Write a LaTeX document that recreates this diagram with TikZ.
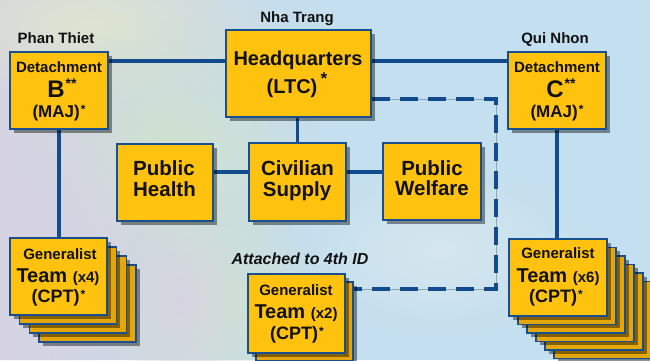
\documentclass[tikz,border=0pt]{standalone}
\usepackage{fontspec}
\setmainfont{Liberation Sans}
\usetikzlibrary{shadows,fadings}
\definecolor{bgblue}{HTML}{C4DFEF}
\definecolor{lav}{HTML}{D7D4E3}
\definecolor{greenish}{HTML}{D0E3CE}
\definecolor{paleyel}{HTML}{DDE4CF}
\definecolor{whitish}{HTML}{D6E7EE}
\definecolor{boxyel}{HTML}{FFC20F}
\definecolor{boxdark}{HTML}{E3A70B}
\definecolor{edge}{HTML}{1A4F8F}
\definecolor{wire}{HTML}{124C8E}
\definecolor{thingray}{HTML}{8EA6B6}
\definecolor{ink}{HTML}{111111}
\tikzfading[name=fadeR, left color=transparent!0, right color=transparent!100]
\tikzfading[name=softblob, inner color=transparent!0, outer color=transparent!100]
\newcommand\fs[1]{\fontsize{#1}{#1}\selectfont}
\newcommand\starup[2]{\raisebox{#1}{\fs{#2}*}}
\pgfdeclarelayer{bg}
\pgfdeclarelayer{wires}
\pgfsetlayers{bg,wires,main}
\begin{document}
\begin{tikzpicture}[x=1pt,y=-1pt,
  box/.style={draw=edge, line width=1.4pt, fill=boxyel, inner sep=0pt,
    drop shadow={shadow xshift=3.5pt, shadow yshift=-3.5pt, opacity=0.42, fill=black}},
  backbox/.style={box, fill=boxdark},
  tw/.style={minimum width=98pt, minimum height=77pt},
  txt/.style={anchor=base, inner sep=0pt, text=ink, font=\bfseries},
  conn/.style={draw=wire, line width=3.5pt},
  dashconn/.style={draw=wire, line width=3.2pt, dash pattern=on 18pt off 10pt},
  thinline/.style={draw=thingray, line width=0.8pt}]
\useasboundingbox (0,0) rectangle (650,360);

% background
\begin{pgfonlayer}{bg}
\clip (0,0) rectangle (650,360);
\fill[bgblue] (0,0) rectangle (650,360);
\fill[lav, path fading=fadeR] (0,0) rectangle (320,360);
\fill[paleyel, path fading=softblob] (90,25) ellipse (190 and 80);
\fill[greenish, path fading=softblob] (170,150) ellipse (150 and 130);
\fill[greenish, path fading=softblob] (210,300) ellipse (120 and 110);
\fill[lav, path fading=softblob] (40,230) ellipse (140 and 160);
\fill[lav, path fading=softblob] (180,300) ellipse (70 and 90);
\fill[whitish, path fading=softblob] (440,250) ellipse (150 and 90);
\end{pgfonlayer}

% boxes: back of stacks first
\node[backbox, tw, minimum width=97pt] (T4c) at (87.6,303.5) {};
\node[backbox, tw, minimum width=97pt] (T4b) at (77.9,294.5) {};
\node[backbox, tw, minimum width=97pt] (T4a) at (68.2,285.5) {};
\node[box, tw, minimum width=97pt] (T4) at (58.5,276.5) {};

\node[backbox, tw] (T6e) at (603,320) {};
\node[backbox, tw] (T6d) at (594,311.5) {};
\node[backbox, tw] (T6c) at (585,303) {};
\node[backbox, tw] (T6b) at (576,294.5) {};
\node[backbox, tw] (T6a) at (567,286) {};
\node[box, tw] (T6) at (558,277.5) {};

\node[backbox, tw, minimum width=97pt, minimum height=79pt] (T2a) at (304.5,321.5) {};
\node[box, tw, minimum width=97pt, minimum height=79pt] (T2) at (296.5,313.5) {};

\node[box, tw] (B) at (59,90.5) {};
\node[box, tw] (C) at (557,90.5) {};
\node[box, minimum width=145pt, minimum height=87pt] (HQ) at (298.5,73.5) {};
\node[box, minimum width=96pt, minimum height=77pt] (PH) at (165,182.5) {};
\node[box, minimum width=97pt, minimum height=78pt] (CS) at (297.5,182) {};
\node[box, tw] (PW) at (432,181.5) {};

% connectors
\coordinate (topy) at (0,61);
\coordinate (midy) at (0,172);
\coordinate (dc1) at (496,99);
\coordinate (dc2) at (496,289);
\begin{pgfonlayer}{wires}
\draw[conn] (B.east |- topy) -- (HQ.west |- topy);
\draw[conn] (HQ.east |- topy) -- (C.west |- topy);
\draw[conn] (HQ.south -| CS.north) -- (CS.north);
\draw[conn] (PH.east |- midy) -- (CS.west |- midy);
\draw[conn] (CS.east |- midy) -- (PW.west |- midy);
\draw[conn] (B.south) -- (B.south |- T4.north);
\draw[conn] (C.south) -- (C.south |- T6.north);
\draw[thinline] (HQ.east |- dc1) -- (dc1) -- (dc2) -- (T2a.east |- dc2);
\draw[dashconn] (HQ.east |- dc1) -- (dc1) -- (dc2) -- (T2a.east |- dc2);
\end{pgfonlayer}

% location labels
\node[txt] (lPT) at (56,43) {\fs{15}Phan Thiet};
\node[txt] (lNT) at (297,22) {\fs{15}Nha Trang};
\node[txt] (lQN) at (555,43) {\fs{15}Qui Nhon};
\node[txt, font=\bfseries\itshape] (lAtt) at (300,264) {\fs{16}Attached to 4th ID};

% Detachment B
\node[txt] (B1) at (59,72) {\fs{15}Detachment};
\node[txt] (B2) at (62,97) {\fs{24}B\kern1pt\starup{9pt}{14}\starup{9pt}{14}};
\node[txt] (B3) at (59,117) {\fs{17}(MAJ)\kern1pt\starup{3.2pt}{12}};

% Detachment C
\node[txt] (C1) at (557,72) {\fs{15}Detachment};
\node[txt] (C2) at (561,97) {\fs{24}C\kern1pt\starup{9pt}{14}\starup{9pt}{14}};
\node[txt] (C3) at (557,117) {\fs{17}(MAJ)\kern1pt\starup{3.2pt}{12}};

% Headquarters
\node[txt] (H1) at (298,65) {\fs{20}Headquarters};
\node[txt] (H2) at (297,93) {\fs{20}(LTC)\,\starup{8.5pt}{17}};

% staff sections
\node[txt] (PH1) at (164,175) {\fs{20.5}Public};
\node[txt] (PH2) at (164.5,196) {\fs{20.5}Health};
\node[txt] (CS1) at (297.5,175) {\fs{20.5}Civilian};
\node[txt] (CS2) at (297,196) {\fs{20.5}Supply};
\node[txt] (PW1) at (432,175) {\fs{20.5}Public};
\node[txt] (PW2) at (432,195) {\fs{20.5}Welfare};

% Team x4
\node[txt] (T41) at (60,259) {\fs{15}Generalist};
\node[txt] (T42) at (58,282) {{\fs{20}Team }{\fs{15}(x4)}};
\node[txt] (T43) at (58.5,302) {\fs{18}(CPT)\kern1pt\starup{3.2pt}{12}};

% Team x6
\node[txt] (T61) at (558,258) {\fs{15}Generalist};
\node[txt] (T62) at (558,282) {{\fs{20}Team }{\fs{15}(x6)}};
\node[txt] (T63) at (556,302) {\fs{18}(CPT)\kern1pt\starup{3.2pt}{12}};

% Team x2
\node[txt] (T21) at (296,295) {\fs{15}Generalist};
\node[txt] (T22) at (296,318) {{\fs{20}Team }{\fs{15}(x2)}};
\node[txt] (T23) at (297,339) {\fs{18}(CPT)\kern1pt\starup{3.2pt}{12}};
\end{tikzpicture}
\end{document}
